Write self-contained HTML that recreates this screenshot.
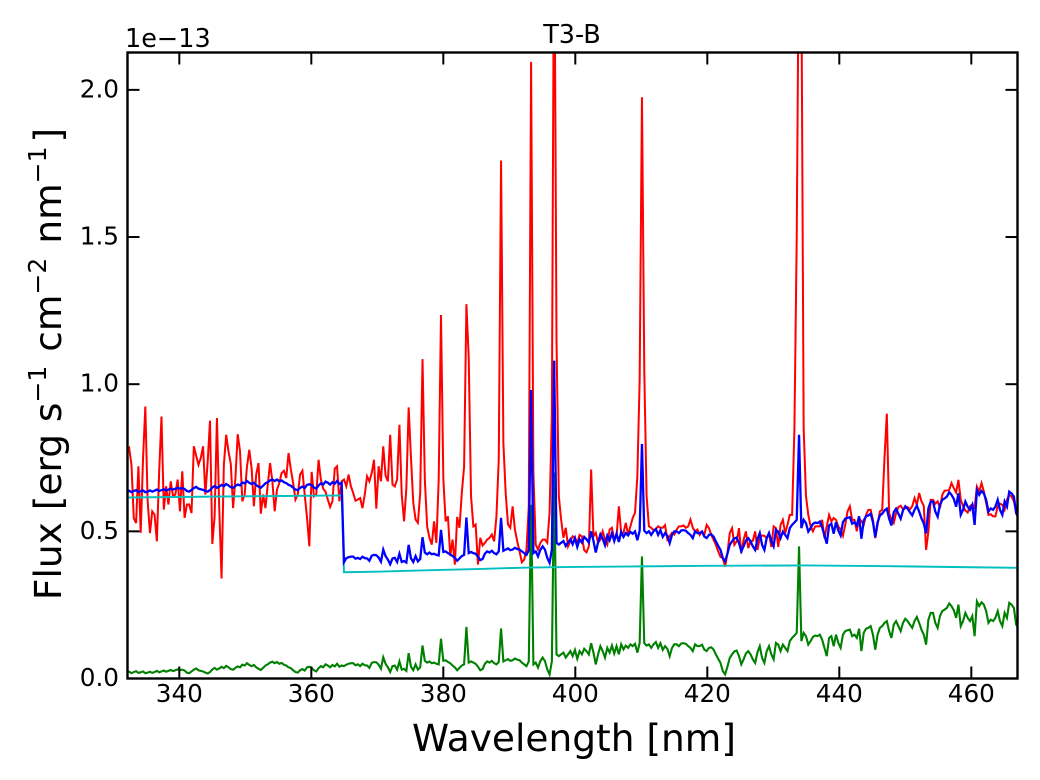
<!DOCTYPE html>
<html lang="en">
<head>
<meta charset="utf-8">
<title>T3-B spectrum</title>
<style>
html,body{margin:0;padding:0;background:#fff;}
svg{display:block;}
text{font-family:"DejaVu Sans","Liberation Sans",sans-serif;fill:#000;}
</style>
</head>
<body>
<svg id="chart" xmlns="http://www.w3.org/2000/svg" width="1040" height="780" viewBox="0 0 1040 780">
<defs><clipPath id="plot-clip"><rect x="127.5" y="52.5" width="890" height="626.5"/></clipPath></defs>
<rect x="0" y="0" width="1040" height="780" fill="#fff"/>
<g id="series" clip-path="url(#plot-clip)"></g>
<g id="ticks"></g>
<rect x="127.5" y="52.5" width="890" height="626" fill="none" stroke="#000" stroke-width="2.4"/>
<text x="572" y="43" font-size="25.5" text-anchor="middle">T3-B</text>
<text x="125" y="47" font-size="25.5">1e−13</text>
<text x="574" y="751" font-size="37.5" text-anchor="middle">Wavelength [nm]</text>
<text transform="translate(61,364) rotate(-90)" font-size="37.5" text-anchor="middle">Flux [erg s<tspan font-size="25" dy="-15">−1</tspan><tspan dy="15" dx="14">cm</tspan><tspan font-size="25" dy="-15">−2</tspan><tspan dy="15" dx="14">nm</tspan><tspan font-size="25" dy="-15">−1</tspan><tspan dy="15" dx="4">]</tspan></text>
</svg>
<script>
// Flux values are in units of 1e-16 erg/s/cm2/nm; samples lie on a regular wavelength grid.
const waveStart = 332.05;
const waveStep = 0.35;
const xTickLabels = [340, 360, 380, 400, 420, 440, 460];
const yTickValues = [0, 500, 1000, 1500, 2000];
const yTickLabels = ["0.0", "0.5", "1.0", "1.5", "2.0"];

const redFlux = [
772,783,726,545,528,721,495,745,924,604,
494,568,557,466,704,890,574,653,591,670,
619,625,676,568,704,546,591,591,562,789,
757,726,749,789,625,738,876,457,551,885,
579,340,726,828,772,729,579,681,830,772,
602,625,719,777,715,585,693,732,560,625,
579,659,732,670,568,642,664,698,706,681,
766,710,664,608,625,693,706,625,546,449,
702,619,625,743,676,645,635,608,583,602,
713,721,602,670,676,653,693,653,630,604,
608,613,579,625,687,670,698,743,577,721,
670,789,690,670,828,659,653,676,862,625,
534,647,921,750,597,540,529,630,1085,676,
517,478,455,534,461,675,1235,680,534,551,
416,472,387,549,512,630,720,1272,1090,620,
517,523,387,478,452,461,472,478,489,466,
551,744,1760,800,630,523,512,585,506,466,
432,395,404,438,585,2095,700,455,438,461,
472,472,461,563,900,2700,1150,620,540,478,
512,449,466,483,478,461,488,483,436,429,
449,710,483,495,461,472,500,472,455,506,
512,472,483,585,495,495,529,489,517,546,
563,687,1015,1975,1050,620,517,512,504,508,
517,512,512,521,472,483,495,489,506,517,
517,520,512,517,540,512,500,506,488,500,
488,522,511,488,471,454,432,413,409,380,
426,494,511,454,466,511,426,471,500,443,
466,468,500,437,477,486,485,477,494,447,
517,511,447,522,539,494,522,556,556,850,
1500,2600,2400,850,620,556,517,500,517,517,
517,539,477,517,556,534,545,539,517,505,
485,522,568,585,539,539,500,545,534,522,
556,573,573,539,477,522,568,573,750,900,
562,539,528,562,582,587,575,579,582,575,
585,613,590,630,602,587,437,500,607,607,
594,602,579,624,638,639,641,664,647,632,
675,607,585,571,564,585,592,579,652,635,
664,635,596,556,558,551,551,585,594,590,
573,607,624,618,602,568,560
];

const greenFlux = [
20,23,18,22,25,19,21,24,18,20,
23,19,22,26,21,24,27,23,26,29,
25,28,31,28,30,27,20,18,24,30,
34,28,26,24,20,17,22,31,36,30,
34,40,35,43,38,32,30,36,41,38,
47,44,52,46,42,46,38,33,29,36,
44,48,54,57,52,56,50,53,47,44,
38,35,28,22,20,28,32,27,38,40,
36,28,24,35,42,38,48,44,38,46,
41,50,40,44,42,47,50,52,52,45,
48,42,50,45,44,36,53,56,55,47,
33,72,50,38,22,42,44,30,58,30,
33,26,86,40,28,48,30,38,112,60,
54,58,52,54,50,48,135,60,62,56,
52,44,38,28,36,44,48,175,54,58,
54,50,40,28,32,50,58,54,60,52,
48,56,170,58,62,66,60,62,68,64,
62,54,48,42,58,590,48,54,37,59,
71,59,31,14,59,700,82,76,82,88,
71,82,93,76,97,67,93,82,101,93,
82,120,88,48,82,110,93,71,104,88,
112,85,110,82,116,99,112,104,116,110,
118,88,120,415,120,112,116,104,116,124,
104,120,97,110,101,76,104,116,116,110,
119,120,118,110,104,93,116,110,110,115,
98,93,104,106,98,82,67,53,25,14,
40,70,82,92,95,76,48,65,85,93,
82,65,53,89,110,70,53,93,110,82,
65,121,115,93,115,104,93,127,138,146,
155,449,127,155,144,115,127,141,146,144,
149,132,104,76,138,144,110,149,121,104,
149,161,164,166,144,149,138,169,93,155,
169,172,178,149,98,149,172,178,189,195,
161,138,183,195,178,161,189,203,195,183,
172,195,209,189,166,149,115,200,223,223,
189,172,212,229,234,240,255,246,232,206,
251,178,195,223,206,195,212,144,262,246,
259,251,229,189,200,195,206,229,195,178,
223,206,257,251,240,183,170
];

const blueFlux = [
635,638,633,637,640,634,636,639,633,635,
639,635,638,642,637,640,643,639,642,645,
642,645,648,645,647,644,637,635,641,647,
651,645,643,641,637,635,640,649,654,648,
652,658,653,661,656,650,648,654,659,656,
666,663,671,665,661,665,657,652,648,655,
663,667,673,676,671,676,670,673,667,664,
658,655,648,642,640,648,652,647,658,660,
657,649,645,656,663,659,669,665,659,667,
662,671,661,665,395,409,412,414,414,407,
410,406,414,409,408,400,417,420,419,411,
397,438,416,404,388,408,410,396,424,396,
399,394,454,408,396,416,398,406,480,428,
422,428,422,424,420,418,505,430,432,426,
422,416,410,400,408,416,420,547,426,430,
426,424,414,402,406,424,432,428,434,426,
422,432,546,434,438,442,436,438,444,440,
438,432,426,420,436,980,426,432,415,437,
449,438,410,393,438,1080,461,455,461,467,
450,462,473,456,477,447,473,462,481,473,
462,500,468,428,462,490,475,453,486,470,
494,467,492,464,498,481,494,486,498,492,
500,470,502,797,502,494,500,488,500,508,
488,504,481,494,485,460,488,500,500,494,
503,504,502,494,488,477,500,494,494,499,
482,477,488,490,482,466,451,437,409,398,
424,454,466,476,479,460,432,449,469,477,
466,449,437,473,494,454,437,477,494,466,
449,505,499,477,499,488,477,511,522,530,
539,828,511,539,528,499,511,525,530,528,
533,514,486,458,520,526,492,531,503,486,
531,543,546,548,526,531,520,551,475,537,
551,554,560,531,480,531,554,560,571,577,
543,520,565,577,560,543,571,585,577,565,
554,573,587,567,544,527,493,578,601,601,
567,550,590,607,612,618,633,624,610,584,
629,556,573,601,584,573,590,522,640,624,
637,629,607,567,578,573,584,607,573,556,
601,584,635,629,618,561,548
];

const cyanWaves = [332.05,345,364.6,364.95,370,378,385,393,400,410,420,435,450,460,467.5];
const cyanFlux = [615,618,622,361,363,368,372,377,379,381,383,384,381,378,376];

const NS = "http://www.w3.org/2000/svg";
const xLeft = 127.5, xRight = 1017.5, wMin = 332.15, wMax = 467.0;
const yBottom = 678.5, yTop = 52.5, fMin = 0, fMax = 2127;
function xScale(w){ return xLeft + (w - wMin) / (wMax - wMin) * (xRight - xLeft); }
function yScale(f){ return yBottom - (f - fMin) / (fMax - fMin) * (yBottom - yTop); }
function gridWave(i){ return waveStart + waveStep * i; }
function pointsFrom(waves, values){
  return values.map(function(v, i){
    return xScale(waves(i)).toFixed(2) + "," + yScale(v).toFixed(2);
  }).join(" ");
}
const seriesGroup = document.getElementById("series");
const ticksGroup = document.getElementById("ticks");

const redLine = document.createElementNS(NS, "polyline");


redLine.setAttribute("points", pointsFrom(gridWave, redFlux));
redLine.setAttribute("fill", "none");
redLine.setAttribute("stroke", "#ff0000");
redLine.setAttribute("stroke-width", "2");
seriesGroup.appendChild(redLine);

const greenLine = document.createElementNS(NS, "polyline");


greenLine.setAttribute("points", pointsFrom(gridWave, greenFlux));
greenLine.setAttribute("fill", "none");
greenLine.setAttribute("stroke", "#008000");
greenLine.setAttribute("stroke-width", "2.1");
seriesGroup.appendChild(greenLine);

const cyanLine = document.createElementNS(NS, "polyline");


cyanLine.setAttribute("points", pointsFrom(function(i){ return cyanWaves[i]; }, cyanFlux));
cyanLine.setAttribute("fill", "none");
cyanLine.setAttribute("stroke", "#00bfbf");
cyanLine.setAttribute("stroke-width", "1.9");
seriesGroup.appendChild(cyanLine);

const blueLine = document.createElementNS(NS, "polyline");


blueLine.setAttribute("points", pointsFrom(gridWave, blueFlux));
blueLine.setAttribute("fill", "none");
blueLine.setAttribute("stroke", "#0000ff");
blueLine.setAttribute("stroke-width", "2.3");
seriesGroup.appendChild(blueLine);

function addTick(x1, y1, x2, y2, name){
  const t = document.createElementNS(NS, "line");
  
  
  t.setAttribute("x1", x1);
  t.setAttribute("y1", y1);
  t.setAttribute("x2", x2);
  t.setAttribute("y2", y2);
  t.setAttribute("stroke", "#000");
  t.setAttribute("stroke-width", "2");
  ticksGroup.appendChild(t);
}
function addLabel(x, y, anchor, str, name){
  const t = document.createElementNS(NS, "text");
  
  
  t.setAttribute("x", x);
  t.setAttribute("y", y);
  t.setAttribute("font-size", "24.7");
  t.setAttribute("text-anchor", anchor);
  t.textContent = str;
  ticksGroup.appendChild(t);
}
xTickLabels.forEach(function(w){
  const x = xScale(w);
  addTick(x, yBottom, x, yBottom - 12, "x-tick-bottom");
  addTick(x, yTop, x, yTop + 12, "x-tick-top");
  addLabel(x, 702, "middle", String(w), "x-tick-label");
});
yTickValues.forEach(function(f, i){
  const y = yScale(f);
  addTick(xLeft, y, xLeft + 12, y, "y-tick-left");
  addTick(xRight, y, xRight - 12, y, "y-tick-right");
  addLabel(119, y + 7.5, "end", yTickLabels[i], "y-tick-label");
});
</script>
</body>
</html>
